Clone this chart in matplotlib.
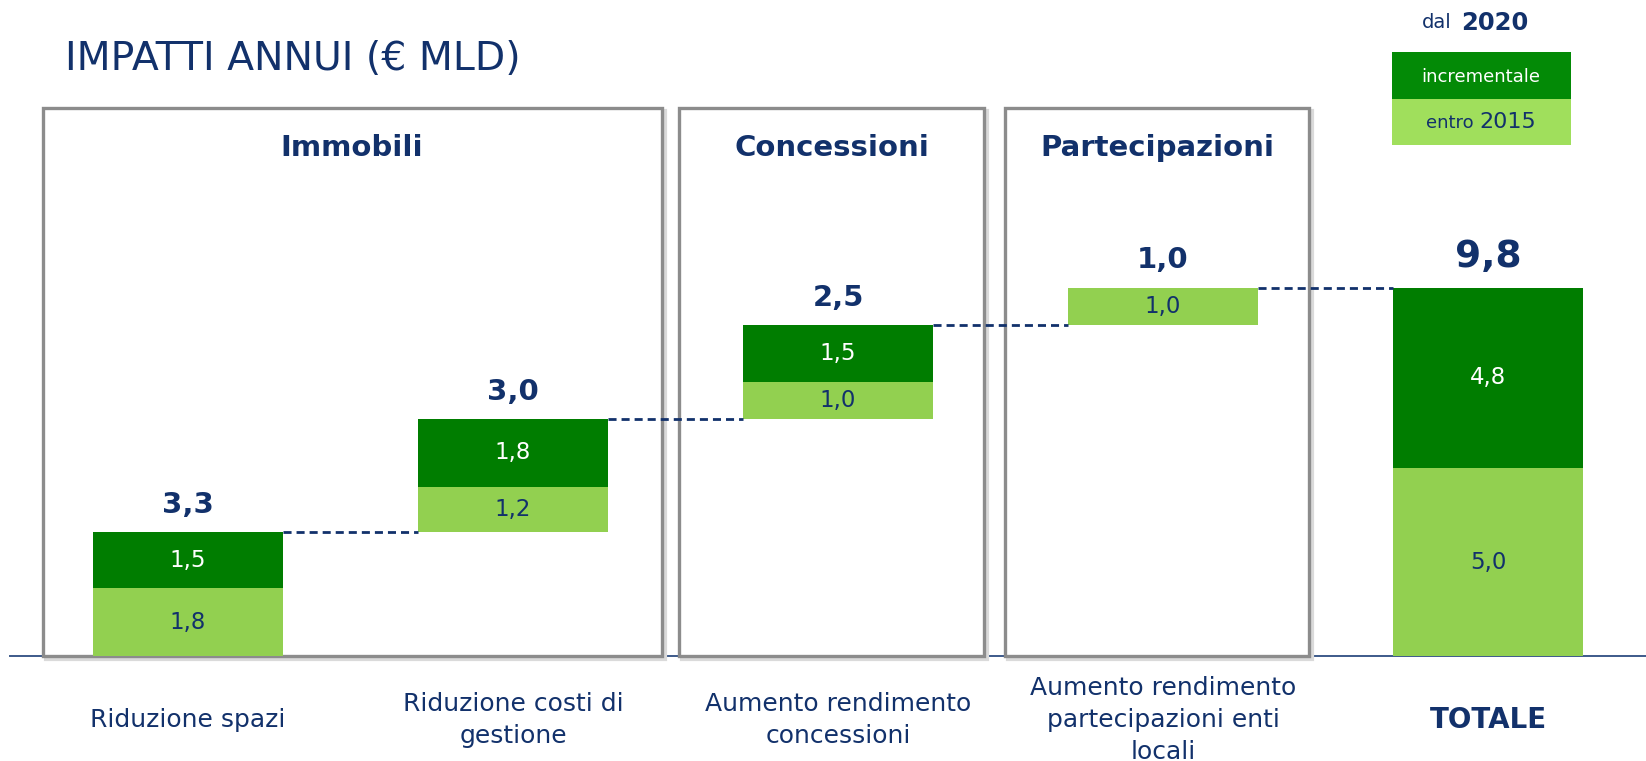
import matplotlib
matplotlib.use("Agg")
import matplotlib.pyplot as plt
from matplotlib.patches import Rectangle
from matplotlib.lines import Line2D

# ---------------- data ----------------
categories = ["Riduzione spazi", "Riduzione costi di\ngestione",
              "Aumento rendimento\nconcessioni",
              "Aumento rendimento\npartecipazioni enti\nlocali", "TOTALE"]
entro_2015 = [1.8, 1.2, 1.0, 1.0]          # light green (bottom)
incrementale = [1.5, 1.8, 1.5, 0.0]        # dark green (top)
groups = ["Immobili", "Concessioni", "Partecipazioni"]
group_members = [[0, 1], [2], [3]]
title = "IMPATTI ANNUI (€ MLD)"

# ---------------- style ----------------
NAVY = "#12316B"
DARK = "#007D00"
LIGHT = "#92D050"
W, H = 1646, 761
BASE_PX = 656        # baseline (pixels from top)
UNIT_PX = 37.6       # pixels per unit
X0_PX, STEP_PX = 188, 325
BAR_W = 0.585
BOX_PADS = [(0.447, 0.457), (0.49, 0.45), (0.485, 0.45)]

fig = plt.figure(figsize=(W / 100, H / 100), dpi=100)
ax = fig.add_axes([0, 0, 1, 1])
ax.set_xlim(-X0_PX / STEP_PX, (W - X0_PX) / STEP_PX)
ax.set_ylim(-(H - BASE_PX) / UNIT_PX, BASE_PX / UNIT_PX)
ax.axis("off")


def fmt(v):
    return f"{v:.1f}".replace(".", ",")


# baseline
ax.plot([-X0_PX / STEP_PX + 10 / STEP_PX, (W - X0_PX) / STEP_PX], [0, 0],
        color="#3D5A8A", lw=1.4, zorder=1)

# group boxes
box_top = (BASE_PX - 108) / UNIT_PX
for name, mem, (pad_l, pad_r) in zip(groups, group_members, BOX_PADS):
    x_l = min(mem) - pad_l
    x_r = max(mem) + pad_r
    dx = 3 / STEP_PX
    dy = 3 / UNIT_PX
    ax.add_patch(Rectangle((x_l + dx, -dy), x_r - x_l, box_top, fill=False,
                           edgecolor="#DADADA", lw=3, zorder=1.5))
    ax.add_patch(Rectangle((x_l, 0), x_r - x_l, box_top, facecolor="white",
                           edgecolor="#8C8C8C", lw=2.4, zorder=2))
    ax.text((x_l + x_r) / 2, (BASE_PX - 148) / UNIT_PX, name, ha="center",
            va="center", fontsize=21, fontweight="bold", color=NAVY, zorder=5)

# waterfall bars
n = len(entro_2015)
base = 0.0
tops = []
for i in range(n):
    lo = entro_2015[i]
    hi = incrementale[i]
    ax.bar(i, lo, BAR_W, bottom=base, color=LIGHT, zorder=3)
    ax.text(i, base + lo / 2, fmt(lo), ha="center", va="center",
            fontsize=16.5, color=NAVY, zorder=4)
    if hi > 0:
        ax.bar(i, hi, BAR_W, bottom=base + lo, color=DARK, zorder=3)
        ax.text(i, base + lo + hi / 2, fmt(hi), ha="center", va="center",
                fontsize=16.5, color="white", zorder=4)
    base += lo + hi
    tops.append(base)
    ax.text(i, base + 0.72, fmt(lo + hi), ha="center", va="center",
            fontsize=21, fontweight="bold", color=NAVY, zorder=4)

# total bar
tot_lo = sum(entro_2015)
tot_hi = sum(incrementale)
ax.bar(n, tot_lo, BAR_W, color=LIGHT, zorder=3)
ax.bar(n, tot_hi, BAR_W, bottom=tot_lo, color=DARK, zorder=3)
ax.text(n, tot_lo / 2, fmt(tot_lo), ha="center", va="center",
        fontsize=16.5, color=NAVY, zorder=4)
ax.text(n, tot_lo + tot_hi / 2, fmt(tot_hi), ha="center", va="center",
        fontsize=16.5, color="white", zorder=4)
ax.text(n, tot_lo + tot_hi + 0.8, fmt(tot_lo + tot_hi), ha="center",
        va="center", fontsize=27, fontweight="bold", color=NAVY, zorder=4)

# connectors
for i in range(n):
    ln = Line2D([i + BAR_W / 2, i + 1 - BAR_W / 2], [tops[i], tops[i]],
                color=NAVY, lw=2.0, zorder=4)
    ln.set_dashes((2.9, 1.8))
    ax.add_line(ln)

# category labels
for i, c in enumerate(categories):
    bold = (i == n)
    ax.text(i, (BASE_PX - 720) / UNIT_PX, c, ha="center", va="center",
            fontsize=20 if bold else 18,
            fontweight="bold" if bold else "normal",
            color=NAVY, linespacing=1.42)


def fx(px):
    return px / W


def fy(py):
    return 1 - py / H


# title
fig.text(fx(65), fy(59), title, ha="left", va="center", fontsize=28.4,
         color=NAVY)

# legend
fig.text(fx(1452), fy(23), "dal", ha="right", va="center", fontsize=14,
         color=NAVY)
fig.text(fx(1461), fy(23), "2020", ha="left", va="center", fontsize=17.5,
         fontweight="bold", color=NAVY)
fig.patches.append(Rectangle((fx(1392), fy(99)), fx(1571) - fx(1392),
                             fy(52) - fy(99), transform=fig.transFigure,
                             facecolor="#038A06", edgecolor="none"))
fig.patches.append(Rectangle((fx(1392), fy(145)), fx(1571) - fx(1392),
                             fy(99) - fy(145), transform=fig.transFigure,
                             facecolor="#A0DF5C", edgecolor="none"))
fig.text(fx(1481), fy(77), "incrementale", ha="center", va="center",
         fontsize=13, color="white")
fig.text(fx(1474), fy(123), "entro", ha="right", va="center", fontsize=13,
         color=NAVY)
fig.text(fx(1479), fy(122), "2015", ha="left", va="center", fontsize=16,
         color=NAVY)

fig.savefig("out.png", dpi=100)
